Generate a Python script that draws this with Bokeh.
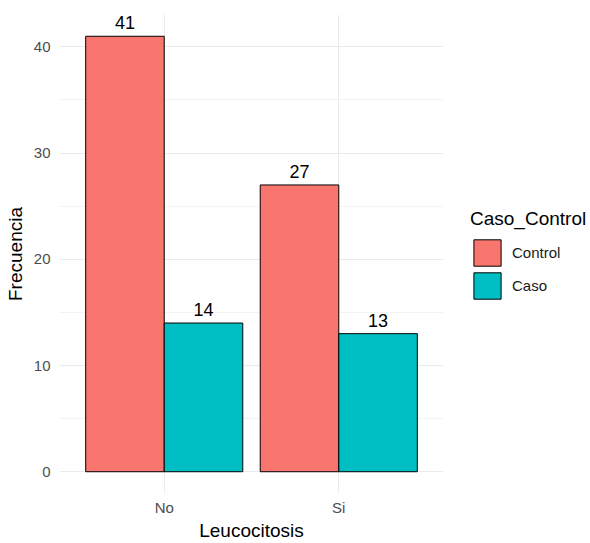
from bokeh.plotting import figure
from bokeh.layouts import row
from bokeh.models import (ColumnDataSource, FactorRange, Range1d, Legend, LegendItem,
                          SingleIntervalTicker, BoxAnnotation)
from bokeh.transform import dodge
from bokeh.core.properties import value
from bokeh.embed import file_html
from bokeh.resources import INLINE

categories = ["No", "Si"]
control = [41, 27]
caso = [14, 13]
series_names = ["Control", "Caso"]
colors = ["#F8766D", "#00BFC4"]

src = ColumnDataSource(data=dict(cat=categories, control=control, caso=caso,
                                 control_lbl=[str(v) for v in control],
                                 caso_lbl=[str(v) for v in caso]))

FONT = "Liberation Sans"
H = 543

p = figure(width=448, height=H, output_backend="svg", toolbar_location=None,
           x_range=FactorRange(factors=categories, range_padding=0.1),
           y_range=Range1d(-2.05, 43.05),
           min_border_left=59, min_border_right=5, min_border_top=14, min_border_bottom=45)
p.outline_line_color = None
p.background_fill_color = "white"

w = 0.45
r1 = p.vbar(x=dodge("cat", -w / 2, range=p.x_range), top="control", bottom=0, width=w, source=src,
            fill_color=colors[0], line_color="black", line_width=1)
r2 = p.vbar(x=dodge("cat", w / 2, range=p.x_range), top="caso", bottom=0, width=w, source=src,
            fill_color=colors[1], line_color="black", line_width=1)

p.text(x=dodge("cat", -w / 2, range=p.x_range), y="control", text="control_lbl", source=src,
       text_align="center", text_baseline="middle", y_offset=-13.5,
       text_font=value(FONT), text_font_size="18px", text_color="black")
p.text(x=dodge("cat", w / 2, range=p.x_range), y="caso", text="caso_lbl", source=src,
       text_align="center", text_baseline="middle", y_offset=-13.5,
       text_font=value(FONT), text_font_size="18px", text_color="black")

p.yaxis.ticker = SingleIntervalTicker(interval=10, num_minor_ticks=2)
for ax in (p.xaxis[0], p.yaxis[0]):
    ax.axis_line_color = None
    ax.major_tick_line_color = None
    ax.minor_tick_line_color = None
    ax.major_tick_out = 0
    ax.minor_tick_out = 0
    ax.major_label_text_font = FONT
    ax.major_label_text_font_size = "15px"
    ax.major_label_text_color = "#4D4D4D"
    ax.axis_label_text_font = FONT
    ax.axis_label_text_font_size = "19px"
    ax.axis_label_text_font_style = "normal"
    ax.axis_label_text_color = "black"

p.xaxis.axis_label = "Leucocitosis"
p.yaxis.axis_label = "Frecuencia"
p.yaxis.major_label_standoff = 9
p.yaxis.axis_label_standoff = 5
p.xaxis.major_label_standoff = 5
p.xaxis.axis_label_standoff = 1

p.xgrid.grid_line_color = "#EBEBEB"
p.ygrid.grid_line_color = "#EBEBEB"
p.ygrid.minor_grid_line_color = "#EBEBEB"
p.ygrid.minor_grid_line_width = 0.6
p.xgrid.level = "underlay"
p.ygrid.level = "underlay"

# legend panel: key renderers share the source; a white cover hides their marks
lg = figure(width=142, height=H, output_backend="svg", toolbar_location=None,
            x_axis_type=None, y_axis_type=None,
            x_range=FactorRange(factors=categories), y_range=Range1d(-10, 50),
            min_border=0)
lg.outline_line_color = None
lg.xgrid.visible = False
lg.ygrid.visible = False
k1 = lg.vbar(x="cat", top="control", bottom=0, width=0.4, source=src,
             fill_color=colors[0], line_color="black", line_width=1)
k2 = lg.vbar(x="cat", top="caso", bottom=0, width=0.4, source=src,
             fill_color=colors[1], line_color="black", line_width=1)
cover = BoxAnnotation(fill_color="white", fill_alpha=1.0, line_alpha=0, level="glyph")
lg.add_layout(cover)

legend = Legend(items=[LegendItem(label=series_names[0], renderers=[k1]),
                       LegendItem(label=series_names[1], renderers=[k2])],
                title="Caso_Control", location=(22, 191),
                title_text_font=FONT, title_text_font_size="19px", title_text_color="black",
                title_text_font_style="normal", title_standoff=6,
                label_text_font=FONT, label_text_font_size="15px", label_text_color="#1A1A1A",
                glyph_width=34, glyph_height=33, spacing=0, label_standoff=8,
                padding=0, margin=0, border_line_color=None, background_fill_alpha=0)
lg.add_layout(legend, "center")

layout = row(p, lg)
open("out.html", "w").write(file_html(layout, INLINE))
